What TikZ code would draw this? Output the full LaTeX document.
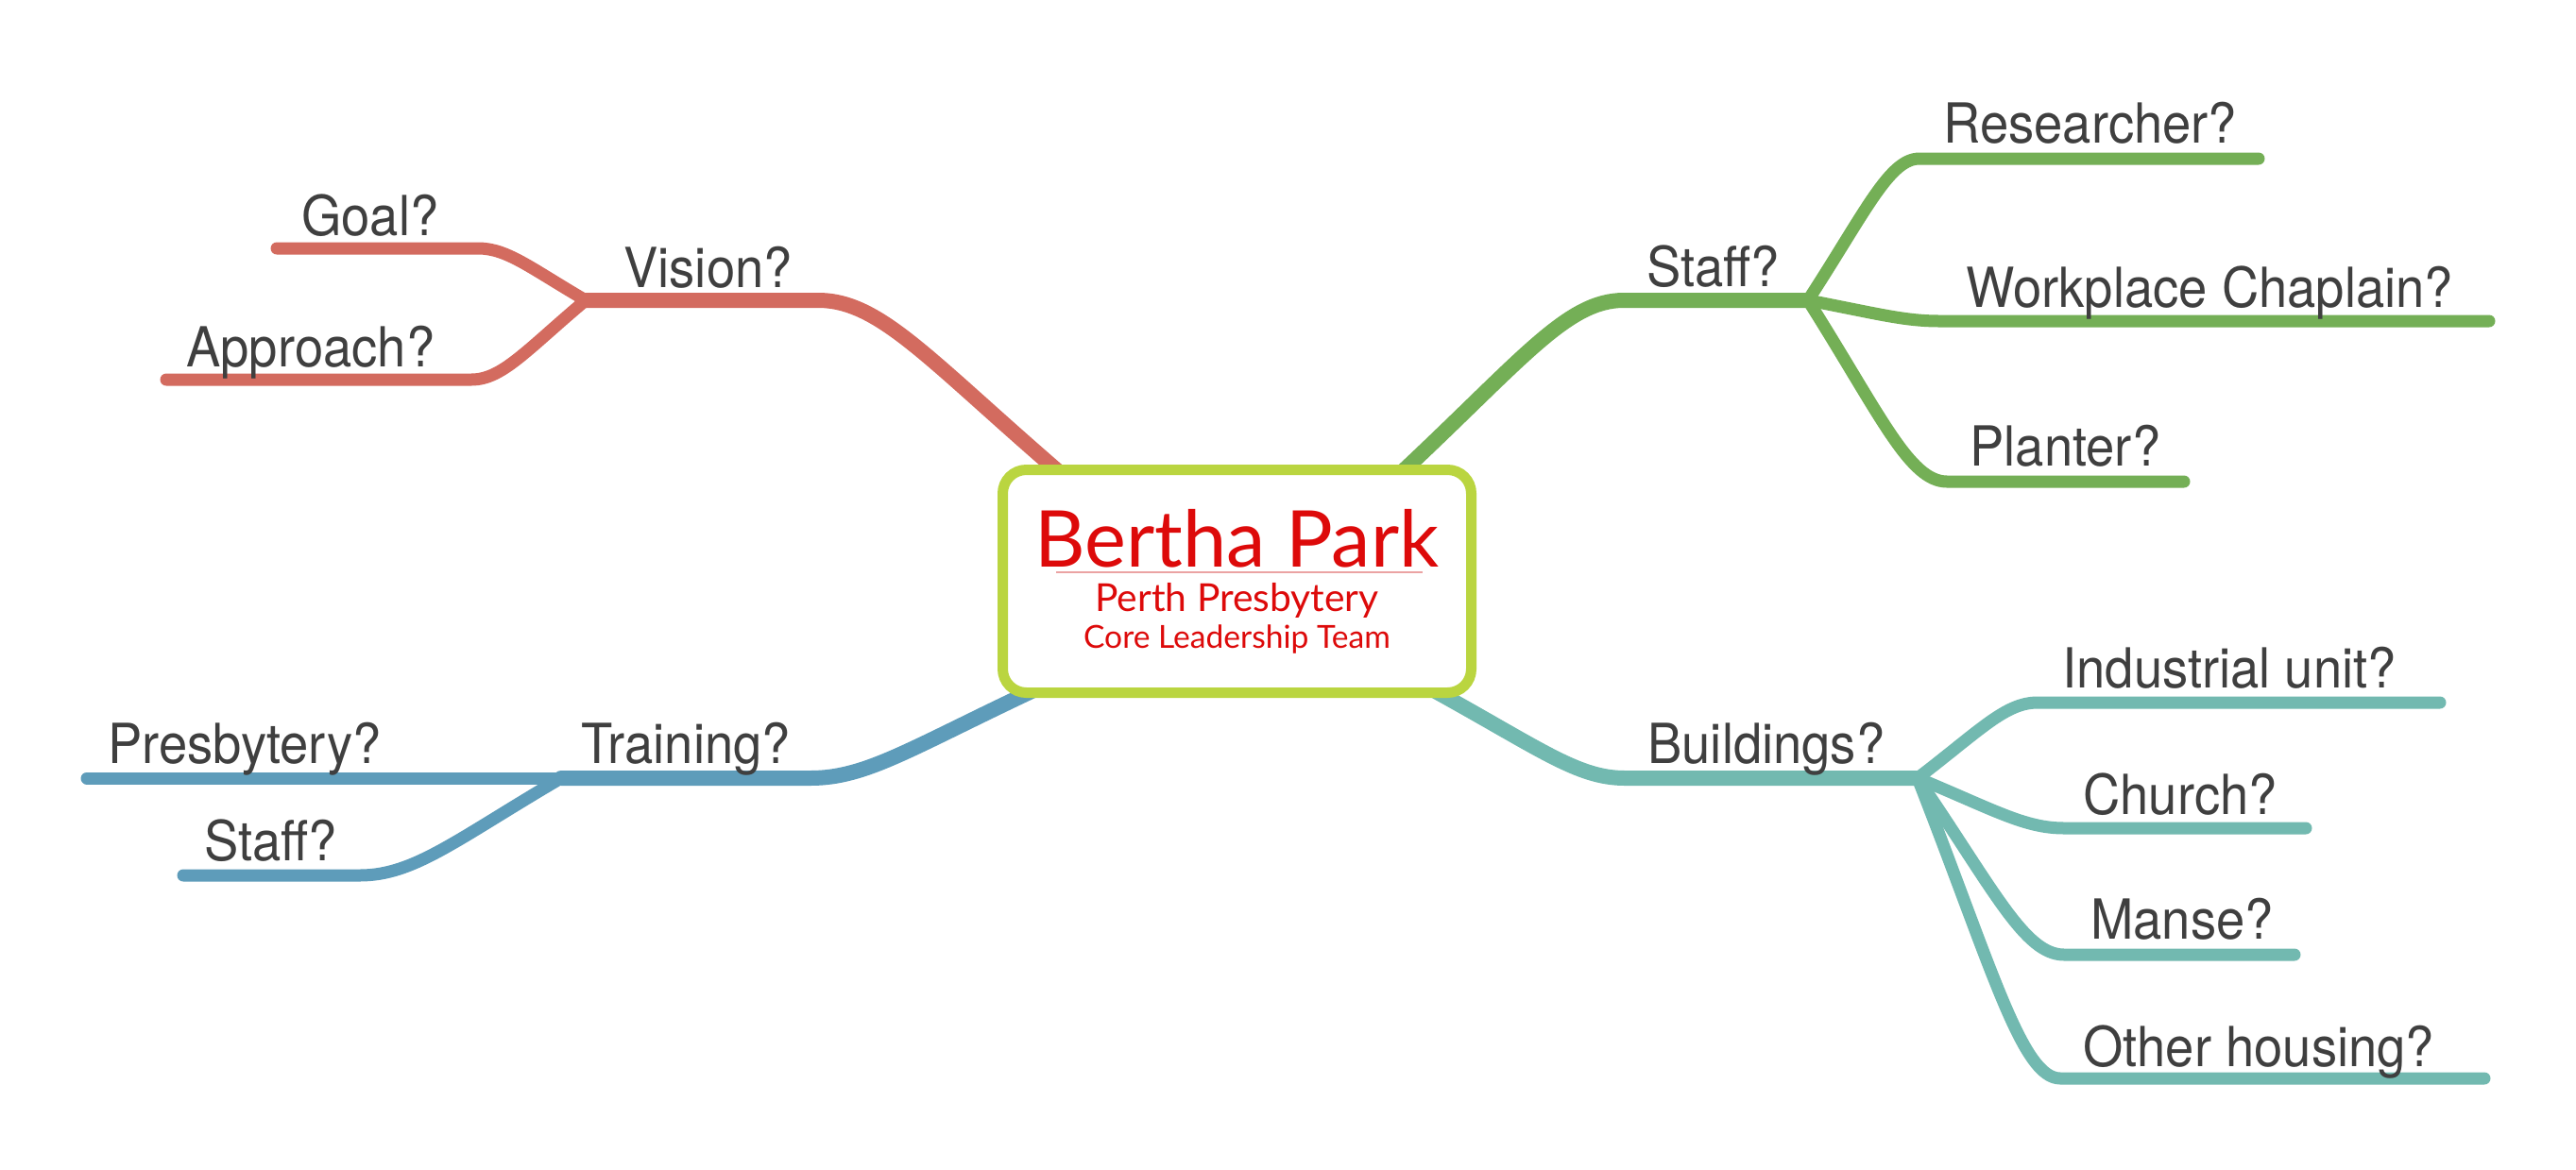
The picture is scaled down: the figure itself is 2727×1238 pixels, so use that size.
\documentclass[tikz,border=0pt]{standalone}
\usepackage{fontspec}
\usetikzlibrary{calc,backgrounds}
\newfontfamily\topicfont{TeX Gyre Heros}[FakeStretch=0.93]
\newfontfamily\rootfont{Lato}
\definecolor{visionRed}{HTML}{D36B5F}
\definecolor{staffGreen}{HTML}{74AF56}
\definecolor{trainingBlue}{HTML}{5E9CBA}
\definecolor{buildingsTeal}{HTML}{72B9B0}
\definecolor{rootLime}{HTML}{BAD540}
\definecolor{titleRed}{HTML}{DD0A0A}
\definecolor{ruleRed}{HTML}{EBA3A3}
\definecolor{labelGrey}{HTML}{3F3F3F}

\begin{document}
\begin{tikzpicture}
[x=0.5pt,y=-0.5pt,
  rootDecorate/.style={draw=rootLime,line width=5.5pt,rounded corners=12.5pt,fill=white,
    minimum width=248pt,minimum height=118pt,inner sep=0pt},%
  labelDecorate/.style={anchor=base west,inner sep=0pt,text=labelGrey,
    font=\topicfont\fontsize{29.25}{35}\selectfont},%
  lineDecorate/.style={line cap=round,line join=round,draw=#1},%
  mainLine/.style={lineDecorate=#1,line width=8pt,shorten <=-12pt},%
  subLine/.style={lineDecorate=#1,line width=6.5pt},%
  curveTo/.style={to path={let \p1=(\tikztostart),\p2=(\tikztotarget) in
    .. controls ({\x1+0.52*(\x2-\x1)},{\y1+0.63*(\y2-\y1)}) and ({\x2-0.27*(\x2-\x1)},\y2) .. (\tikztotarget)}}]
\useasboundingbox (0,0) rectangle (2727,1238);
%% central topic
\node (root) at (1309.5,615.5) [rootDecorate] {};
\node (title) at (1309.5,600) [anchor=base,inner sep=0pt,text=titleRed,
  font=\rootfont\fontsize{41.5}{48}\selectfont] {Bertha Park};
\draw[ruleRed,line width=1pt] (1118,606) -- (1506,606);
\node (presb) at (1309.5,647) [anchor=base,inner sep=0pt,text=titleRed,
  font=\rootfont\fontsize{20.4}{24}\selectfont] {Perth Presbytery};
\node (team) at (1309.5,686) [anchor=base,inner sep=0pt,text=titleRed,
  font=\rootfont\fontsize{16.8}{20}\selectfont] {Core Leadership Team};
%% labels
\foreach \nodename/\x/\y/\txt in {
  vision/660/304/Vision?, staff/1743/303/Staff?, training/615/808/Training?,
  buildings/1744/808/Buildings?, goal/319/249/Goal?, approach/197/388/Approach?,
  researcher/2057/151/Researcher?, chaplain/2081/325/Workplace Chaplain?,
  planter/2085/493/Planter?, presbytery/114/808/Presbytery?, trainstaff/216/911/Staff?,
  industrial/2183/728/Industrial unit?, church/2205/862/Church?, manse/2213/994/Manse?,
  housing/2205/1129/Other housing?}
{
  \node (\nodename) at (\x,\y) [labelDecorate] {\txt};
}
%% bends and ends of the branches
\foreach \nodename/\x/\y in {
  visionA/866/318, visionB/620/318, staffA/1719/318, staffB/1914/318,
  trainingA/858/824, trainingB/594/824, buildingsA/1720/824, buildingsB/2030/824,
  goalA/506/263, goalB/293/263, approachA/499/402, approachB/176/402,
  researcherA/2032/168, researcherB/2391/168, chaplainA/2053/340, chaplainB/2635/340,
  planterA/2061/510, planterB/2312/510, presbyteryA/500/824, presbyteryB/92/824,
  trainstaffA/381/927, trainstaffB/194/927, industrialA/2157/744, industrialB/2583/744,
  churchA/2185/877, churchB/2441/877, manseA/2185/1011, manseB/2429/1011,
  housingA/2181/1142, housingB/2630/1142}
{
  \coordinate (\nodename) at (\x,\y);
}
%% branches
\begin{scope}[on background layer]
\fill[white] (0,0) rectangle (2727,1238);
\foreach \startnode/\bendnode/\endnode/\col in {
  root.148.5/visionA/visionB/visionRed, root.34.6/staffA/staffB/staffGreen,
  root.208/trainingA/trainingB/trainingBlue, root.331.5/buildingsA/buildingsB/buildingsTeal}
{
  \draw[mainLine=\col] (\startnode) to[curveTo] (\bendnode) -- (\endnode);
}
\foreach \startnode/\bendnode/\endnode/\col in {
  visionB/goalA/goalB/visionRed, visionB/approachA/approachB/visionRed,
  staffB/researcherA/researcherB/staffGreen, staffB/chaplainA/chaplainB/staffGreen,
  staffB/planterA/planterB/staffGreen, trainingB/presbyteryA/presbyteryB/trainingBlue,
  trainingB/trainstaffA/trainstaffB/trainingBlue, buildingsB/industrialA/industrialB/buildingsTeal,
  buildingsB/churchA/churchB/buildingsTeal, buildingsB/manseA/manseB/buildingsTeal,
  buildingsB/housingA/housingB/buildingsTeal}
{
  \draw[subLine=\col] (\startnode) to[curveTo] (\bendnode) -- (\endnode);
}
\end{scope}
\end{tikzpicture}
\end{document}
